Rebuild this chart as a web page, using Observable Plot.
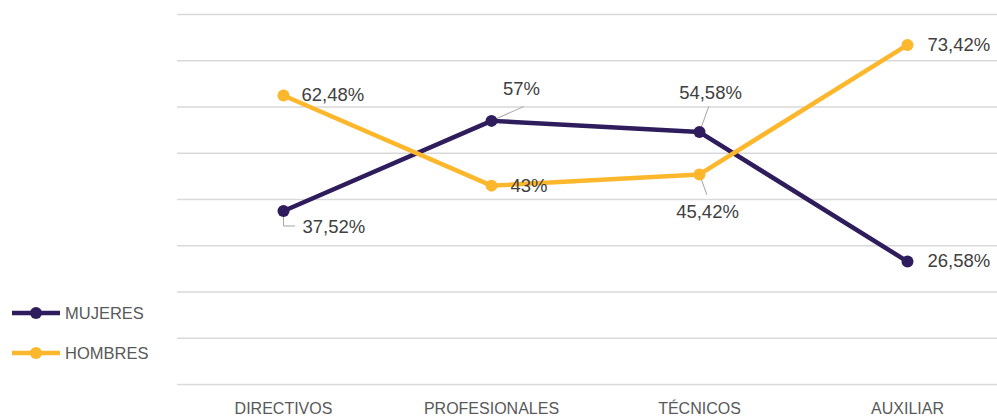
<!DOCTYPE html>
<html><head><meta charset="utf-8">
<script src="https://cdn.jsdelivr.net/npm/d3@7"></script>
<script src="https://cdn.jsdelivr.net/npm/@observablehq/plot@0.6"></script>
<style>
html,body{margin:0;padding:0;background:#fff;overflow:hidden;}
#wrap{position:relative;width:997px;height:420px;overflow:hidden;}
.leg{position:absolute;left:10px;display:flex;align-items:center;font-family:"Liberation Sans",Arial,sans-serif;font-size:16.5px;color:#595959;}
.leg svg{margin-right:3px;}
</style></head><body><div id="wrap"></div>
<script>
const categorias = ["DIRECTIVOS", "PROFESIONALES", "TÉCNICOS", "AUXILIAR"];
const series = ["MUJERES", "HOMBRES"];
const mujeres = [37.52, 57, 54.58, 26.58];
const hombres = [62.48, 43, 45.42, 73.42];
const etiquetasMujeres = ["37,52%", "57%", "54,58%", "26,58%"];
const etiquetasHombres = ["62,48%", "43%", "45,42%", "73,42%"];
const yTicks = [0, 10, 20, 30, 40, 50, 60, 70, 80];
const colores = ["#2e1c5c", "#fdb72c"];

const rows = [];
categorias.forEach((c, i) => {
  rows.push({cat: c, serie: series[0], value: mujeres[i], label: etiquetasMujeres[i], key: "M" + i});
  rows.push({cat: c, serie: series[1], value: hombres[i], label: etiquetasHombres[i], key: "H" + i});
});

// label placement (styles only)
const labelStyle = {
  M0: {dx: 19, dy: 16, textAnchor: "start"},
  H0: {dx: 18, dy: 0, textAnchor: "start"},
  M1: {dx: 30, dy: -32, textAnchor: "middle"},
  H1: {dx: 19, dy: 0, textAnchor: "start"},
  M2: {dx: 11, dy: -39, textAnchor: "middle"},
  H2: {dx: 8, dy: 38, textAnchor: "middle"},
  M3: {dx: 20, dy: 0, textAnchor: "start"},
  H3: {dx: 20, dy: 0, textAnchor: "start"}
};
// leader lines (styles only)
const leaderStyle = {
  M1: {length: 35, rotate: 66},
  M2: {length: 27, rotate: 20},
  H2: {length: 21, rotate: 160}
};
const lineShape = {draw(ctx, l) { ctx.moveTo(0, 0); ctx.lineTo(0, -l); }};
const elbowShape = {draw(ctx, l) { ctx.moveTo(0, 0); ctx.lineTo(0, l); ctx.lineTo(l * 0.75, l); }};

const font = '"Liberation Sans", Arial, sans-serif';
const marks = [
  Plot.ruleY(yTicks, {stroke: "#d9d9d9", strokeWidth: 1.4}),
  Plot.axisX({tickSize: 0, tickPadding: 18, fontSize: 16, fill: "#595959", fontFamily: font, label: null}),
  Plot.line(rows, {x: "cat", y: "value", z: "serie", stroke: "serie", strokeWidth: 4.5}),
];
Object.entries(leaderStyle).forEach(([k, s]) => {
  marks.push(Plot.vector(rows.filter(r => r.key === k), {x: "cat", y: "value", length: s.length, rotate: s.rotate, anchor: "start", shape: lineShape, stroke: "#a6a6a6", strokeWidth: 1}));
});
marks.push(Plot.vector(rows.filter(r => r.key === "M0"), {x: "cat", y: "value", length: 15, rotate: 0, anchor: "start", shape: elbowShape, stroke: "#a6a6a6", strokeWidth: 1, fill: "none"}));
marks.push(Plot.dot(rows, {x: "cat", y: "value", fill: "serie", r: 6}));
rows.forEach(r => {
  const s = labelStyle[r.key];
  marks.push(Plot.text([r], {x: "cat", y: "value", text: "label", dx: s.dx, dy: s.dy, textAnchor: s.textAnchor, fontSize: 18.5, fill: "#404040", fontFamily: font}));
});

const chart = Plot.plot({
  width: 997,
  height: 420,
  marginLeft: 177,
  marginRight: -15,
  marginTop: 14,
  marginBottom: 36,
  style: {background: "#fff", overflow: "hidden"},
  x: {type: "point", domain: categorias, padding: 0.5, axis: null},
  y: {domain: [0, 80], axis: null},
  color: {domain: series, range: colores},
  marks
});
const wrap = document.getElementById("wrap");
wrap.appendChild(chart);

series.forEach((s, i) => {
  const d = document.createElement("div");
  d.className = "leg";
  d.style.top = (i === 0 ? 301 : 341) + "px";
  d.innerHTML = `<svg width="52" height="24"><line x1="2" x2="50" y1="12" y2="12" stroke="${colores[i]}" stroke-width="4.5"/><circle cx="26" cy="12" r="6" fill="${colores[i]}"/></svg><span>${s}</span>`;
  wrap.appendChild(d);
});
</script></body></html>
